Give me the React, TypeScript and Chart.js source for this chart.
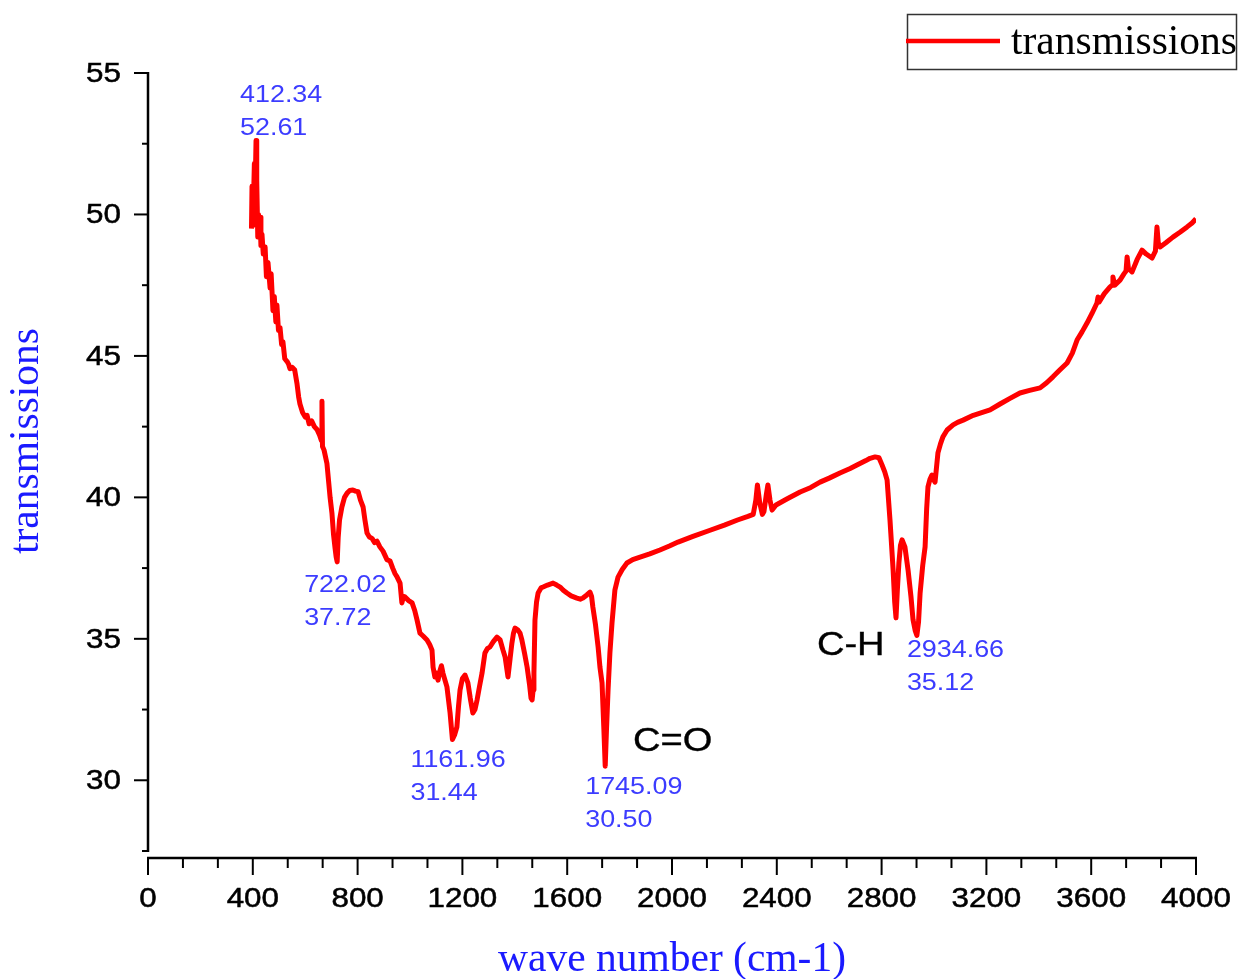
import React, { useEffect, useRef } from "react";
import { Chart, registerables } from "chart.js";

Chart.register(...registerables);

// FTIR spectrum: wavenumber (cm-1) against transmission
const WAVENUMBERS = [
  395, 397, 400, 403, 406, 409, 412.34, 414, 416, 419, 422, 425, 428, 431, 435, 440, 447, 452, 458, 466,
  470, 477, 482, 488, 492, 498, 504, 510, 515, 522, 531, 537, 542, 550, 560, 569, 575, 580, 590, 600,
  607, 615, 625, 635, 645, 655, 662, 664, 666, 672, 683, 690, 695, 702, 708, 714, 718, 722.02, 726, 731,
  740, 750, 760, 770, 782, 792, 802, 811, 821, 828, 836, 845, 855, 865, 874, 885, 897, 912, 924, 934,
  943, 950, 962, 969, 975, 981, 995, 1008, 1018, 1027, 1038, 1050, 1065, 1075, 1084, 1088, 1095, 1100, 1107, 1115,
  1120, 1126, 1141, 1153, 1161.96, 1170, 1179, 1185, 1191, 1200, 1210, 1221, 1230, 1240, 1248, 1256, 1265, 1275, 1286, 1295,
  1305, 1318, 1332, 1344, 1355, 1363, 1374, 1382, 1389, 1395, 1401, 1412, 1420, 1427, 1437, 1447, 1456, 1462, 1466, 1470,
  1473, 1477, 1483, 1489, 1500, 1508, 1525, 1546, 1560, 1573, 1585, 1599, 1615, 1637, 1650, 1660, 1675, 1687, 1693, 1698,
  1708, 1718, 1725, 1733, 1740, 1745.09, 1750, 1756, 1763, 1771, 1782, 1794, 1810, 1828, 1850, 1878, 1915, 1954, 1990, 2023,
  2080, 2140, 2200, 2250, 2290, 2310, 2320, 2326, 2335, 2345, 2351, 2360, 2366, 2374, 2382, 2397, 2440, 2489, 2530, 2565,
  2600, 2641, 2680, 2706, 2740, 2756, 2775, 2790, 2802, 2812, 2821, 2832, 2844, 2850, 2855, 2860, 2866, 2872, 2878, 2889,
  2901, 2912, 2920, 2928, 2934.66, 2941, 2947, 2957, 2966, 2972, 2977, 2985, 2992, 3000, 3004, 3010, 3015, 3025, 3034, 3050,
  3073, 3090, 3111, 3150, 3214, 3252, 3290, 3328, 3365, 3405, 3430, 3454, 3480, 3508, 3528, 3546, 3565, 3584, 3603, 3622,
  3626, 3630, 3650, 3672, 3680, 3683, 3690, 3710, 3725, 3733, 3737, 3742, 3756, 3775, 3794, 3810, 3832, 3845, 3851, 3856,
  3863, 3885, 3912, 3940, 3966, 3985, 4000,
];

const TRANSMISSION = [
  49.5, 51.0, 49.6, 50.6, 51.8, 50.9, 52.61, 50.4, 51.2, 49.2, 50.0, 49.4, 49.9, 48.9, 49.3, 48.6, 48.85, 47.8, 48.3, 47.4,
  47.9, 46.6, 47.1, 46.2, 46.8, 45.9, 46.0, 45.4, 45.5, 44.9, 44.8, 44.7, 44.55, 44.6, 44.5, 44.0, 43.55, 43.3, 43.0, 42.84,
  42.9, 42.6, 42.7, 42.5, 42.4, 42.2, 42.0, 43.4, 41.8, 41.67, 41.2, 40.5, 40.0, 39.45, 38.7, 38.2, 37.9, 37.72, 38.6, 39.2,
  39.66, 40.0, 40.15, 40.24, 40.26, 40.22, 40.2, 39.9, 39.66, 39.2, 38.74, 38.6, 38.55, 38.4, 38.45, 38.25, 38.1, 37.8, 37.75, 37.5,
  37.3, 37.2, 36.97, 36.27, 36.5, 36.48, 36.35, 36.27, 36.0, 35.66, 35.2, 35.1, 34.96, 34.8, 34.6, 34.0, 33.65, 33.8, 33.54, 33.9,
  34.05, 33.78, 33.3, 32.38, 31.44, 31.6, 31.88, 32.6, 33.19, 33.6, 33.72, 33.44, 32.9, 32.38, 32.5, 32.84, 33.3, 33.79, 34.5, 34.65,
  34.71, 34.9, 35.06, 34.96, 34.6, 34.36, 33.65, 34.3, 34.85, 35.2, 35.38, 35.31, 35.2, 34.96, 34.5, 34.0, 33.4, 32.9, 32.84, 33.2,
  33.79, 35.66, 36.3, 36.62, 36.8, 36.83, 36.9, 36.97, 36.9, 36.83, 36.72, 36.62, 36.52, 36.44, 36.4, 36.44, 36.55, 36.65, 36.5, 36.12,
  35.5, 34.71, 34.0, 33.44, 31.8, 30.5, 31.8, 33.19, 34.5, 35.56, 36.72, 37.18, 37.45, 37.68, 37.8, 37.89, 38.0, 38.14, 38.28, 38.42,
  38.62, 38.82, 39.02, 39.2, 39.33, 39.4, 39.9, 40.44, 39.8, 39.4, 39.5, 40.1, 40.44, 39.9, 39.55, 39.73, 39.95, 40.19, 40.35, 40.54,
  40.68, 40.86, 41.02, 41.14, 41.3, 41.38, 41.43, 41.4, 41.14, 40.9, 40.61, 39.2, 37.43, 36.3, 35.74, 36.7, 37.68, 38.3, 38.5, 38.25,
  37.43, 36.5, 35.67, 35.3, 35.12, 35.6, 36.62, 37.6, 38.25, 39.6, 40.37, 40.65, 40.79, 40.6, 40.54, 41.1, 41.57, 41.9, 42.14, 42.38,
  42.56, 42.65, 42.73, 42.9, 43.09, 43.3, 43.5, 43.69, 43.78, 43.87, 44.05, 44.26, 44.5, 44.75, 45.1, 45.56, 45.85, 46.16, 46.5, 46.87,
  47.08, 46.9, 47.2, 47.44, 47.5, 47.79, 47.5, 47.68, 47.9, 48.0, 48.5, 48.1, 47.97, 48.4, 48.74, 48.6, 48.46, 48.7, 49.56, 49.0,
  48.85, 49.0, 49.2, 49.38, 49.56, 49.7, 49.85,
];

// Labelled peaks (position, transmission)
const PEAK_WAVENUMBERS = [412.34, 722.02, 1161.96, 1745.09, 2934.66];
const PEAK_VALUES = [52.61, 37.72, 31.44, 30.5, 35.12];

// Band assignments written next to the absorptions
const BAND_NAMES = ["C=O", "C-H"];
const BAND_WAVENUMBERS = [1851, 2553];
const BAND_VALUES = [31.35, 34.75];

const X_MAJOR_TICKS = [0, 400, 800, 1200, 1600, 2000, 2400, 2800, 3200, 3600, 4000];
const Y_MAJOR_TICKS = [30, 35, 40, 45, 50, 55];

const X_MIN = 0;
const X_MAX = 4000;
const Y_MIN = 27.5;
const Y_MAX = 55;

const SERIES_NAME = "transmissions";
const X_TITLE = "wave number (cm-1)";
const Y_TITLE = "transmissions";

const SANS = '"Liberation Sans", Arial, sans-serif';
const SERIF = '"Liberation Serif", "Times New Roman", serif';
const SANS_STRETCH = 1.12;
const PEAK_COLOR = "#3c3cff";
const TITLE_COLOR = "#1a1aff";

// pixel offsets of each peak label's first line from its peak
const PEAK_LABEL_OFFSETS = [
  [-16, -45],
  [-33, 24],
  [-42, 21],
  [-20, 21],
  [-10, 15],
];

function drawText(
  ctx: CanvasRenderingContext2D,
  text: string,
  x: number,
  y: number,
  font: string,
  color: string,
  align: CanvasTextAlign,
  baseline: CanvasTextBaseline,
  sx = 1,
  rotate = 0,
  weight = 0
) {
  ctx.save();
  ctx.translate(x, y);
  if (rotate) ctx.rotate(rotate);
  ctx.scale(sx, 1);
  ctx.font = font;
  ctx.fillStyle = color;
  ctx.textAlign = align;
  ctx.textBaseline = baseline;
  ctx.fillText(text, 0, 0);
  if (weight > 0) {
    ctx.strokeStyle = color;
    ctx.lineWidth = weight;
    ctx.strokeText(text, 0, 0);
  }
  ctx.restore();
}

const axesPlugin = {
  id: "originAxes",
  beforeDatasetsDraw(chart: any) {
    const { ctx, chartArea, scales } = chart;
    const xs = scales.x;
    const ys = scales.y;
    const left = chartArea.left;
    const xAxisY = chartArea.bottom + 7;
    ctx.save();
    ctx.strokeStyle = "#000";
    ctx.lineWidth = 2.5;
    ctx.lineCap = "butt";

    // y axis
    ctx.beginPath();
    ctx.moveTo(left, chartArea.top - 1);
    ctx.lineTo(left, chartArea.bottom + 1);
    ctx.stroke();
    const yMinor: number[] = [];
    for (let v = Y_MIN; v <= Y_MAX + 1e-6; v += 2.5) {
      if (!Y_MAJOR_TICKS.includes(v)) yMinor.push(v);
    }
    ctx.lineWidth = 2;
    yMinor.forEach((v) => {
      const py = ys.getPixelForValue(v);
      ctx.beginPath();
      ctx.moveTo(left, py);
      ctx.lineTo(left - 6, py);
      ctx.stroke();
    });
    Y_MAJOR_TICKS.forEach((v) => {
      const py = ys.getPixelForValue(v);
      ctx.beginPath();
      ctx.moveTo(left, py);
      ctx.lineTo(left - 14, py);
      ctx.stroke();
      drawText(ctx, String(v), left - 27, py + 1, `28px ${SANS}`, "#000", "right", "middle", SANS_STRETCH, 0, 0.5);
    });

    // x axis, set slightly below the plot area
    ctx.lineWidth = 2.5;
    ctx.beginPath();
    ctx.moveTo(left - 1, xAxisY);
    ctx.lineTo(chartArea.right + 1, xAxisY);
    ctx.stroke();
    ctx.lineWidth = 2;
    for (let i = 0; i < X_MAJOR_TICKS.length - 1; i++) {
      const a = X_MAJOR_TICKS[i];
      const b = X_MAJOR_TICKS[i + 1];
      [a + (b - a) / 3, a + (2 * (b - a)) / 3].forEach((v) => {
        const px = xs.getPixelForValue(v);
        ctx.beginPath();
        ctx.moveTo(px, xAxisY);
        ctx.lineTo(px, xAxisY + 10);
        ctx.stroke();
      });
    }
    X_MAJOR_TICKS.forEach((v) => {
      const px = xs.getPixelForValue(v);
      ctx.beginPath();
      ctx.moveTo(px, xAxisY);
      ctx.lineTo(px, xAxisY + 17);
      ctx.stroke();
      drawText(ctx, String(v), px, xAxisY + 27, `28px ${SANS}`, "#000", "center", "top", SANS_STRETCH, 0, 0.5);
    });
    ctx.restore();

    // axis titles
    drawText(ctx, X_TITLE, xs.getPixelForValue(2000), 971, `41.5px ${SERIF}`, TITLE_COLOR, "center", "alphabetic");
    drawText(ctx, Y_TITLE, 38, 441, `41.5px ${SERIF}`, TITLE_COLOR, "center", "alphabetic", 1, -Math.PI / 2);
  },
  afterDatasetsDraw(chart: any) {
    const { ctx, scales } = chart;
    const xs = scales.x;
    const ys = scales.y;

    // peak labels: position on the first line, transmission on the second
    PEAK_WAVENUMBERS.forEach((w, i) => {
      const px = xs.getPixelForValue(w) + PEAK_LABEL_OFFSETS[i][0];
      const py = ys.getPixelForValue(PEAK_VALUES[i]) + PEAK_LABEL_OFFSETS[i][1];
      drawText(ctx, w.toFixed(2), px, py, `24px ${SANS}`, PEAK_COLOR, "left", "middle", SANS_STRETCH);
      drawText(ctx, PEAK_VALUES[i].toFixed(2), px, py + 33, `24px ${SANS}`, PEAK_COLOR, "left", "middle", SANS_STRETCH);
    });

    BAND_NAMES.forEach((name, i) => {
      const px = xs.getPixelForValue(BAND_WAVENUMBERS[i]);
      const py = ys.getPixelForValue(BAND_VALUES[i]);
      drawText(ctx, name, px, py, `34px ${SANS}`, "#000", "left", "middle", SANS_STRETCH, 0, 0.4);
    });

    // legend box
    const ds = chart.data.datasets[0];
    ctx.save();
    ctx.fillStyle = "#fff";
    ctx.fillRect(907, 14, 330, 56);
    ctx.strokeStyle = "#333";
    ctx.lineWidth = 1.5;
    ctx.strokeRect(907.5, 14.5, 329, 55);
    ctx.strokeStyle = ds.borderColor;
    ctx.lineWidth = 4.5;
    ctx.beginPath();
    ctx.moveTo(906, 41);
    ctx.lineTo(1000, 41);
    ctx.stroke();
    ctx.restore();
    drawText(ctx, ds.label, 1011, 54, `41.5px ${SERIF}`, "#000", "left", "alphabetic");
  },
};

export default function App() {
  const canvasRef = useRef<HTMLCanvasElement | null>(null);

  useEffect(() => {
    const canvas = canvasRef.current;
    if (!canvas) return;
    const points = WAVENUMBERS.map((w, i) => ({ x: w, y: TRANSMISSION[i] }));
    const chart = new Chart(canvas, {
      type: "line",
      data: {
        datasets: [
          {
            label: SERIES_NAME,
            data: points,
            borderColor: "#ff0000",
            borderWidth: 5,
            pointRadius: 0,
            tension: 0,
            fill: false,
            borderJoinStyle: "round",
          },
        ],
      },
      options: {
        responsive: false,
        animation: false,
        devicePixelRatio: 1,
        parsing: false,
        layout: { padding: { left: 148, right: 43, top: 73, bottom: 128 } },
        scales: {
          x: { type: "linear", min: X_MIN, max: X_MAX, display: false },
          y: { type: "linear", min: Y_MIN, max: Y_MAX, display: false },
        },
        plugins: {
          legend: { display: false },
          tooltip: { enabled: false },
        },
      },
      plugins: [axesPlugin],
    });
    return () => chart.destroy();
  }, []);

  return (
    <div style={{ position: "fixed", left: 0, top: 0, width: 1239, height: 979, background: "#fff" }}>
      <canvas ref={canvasRef} width={1239} height={979} style={{ display: "block" }} />
    </div>
  );
}
